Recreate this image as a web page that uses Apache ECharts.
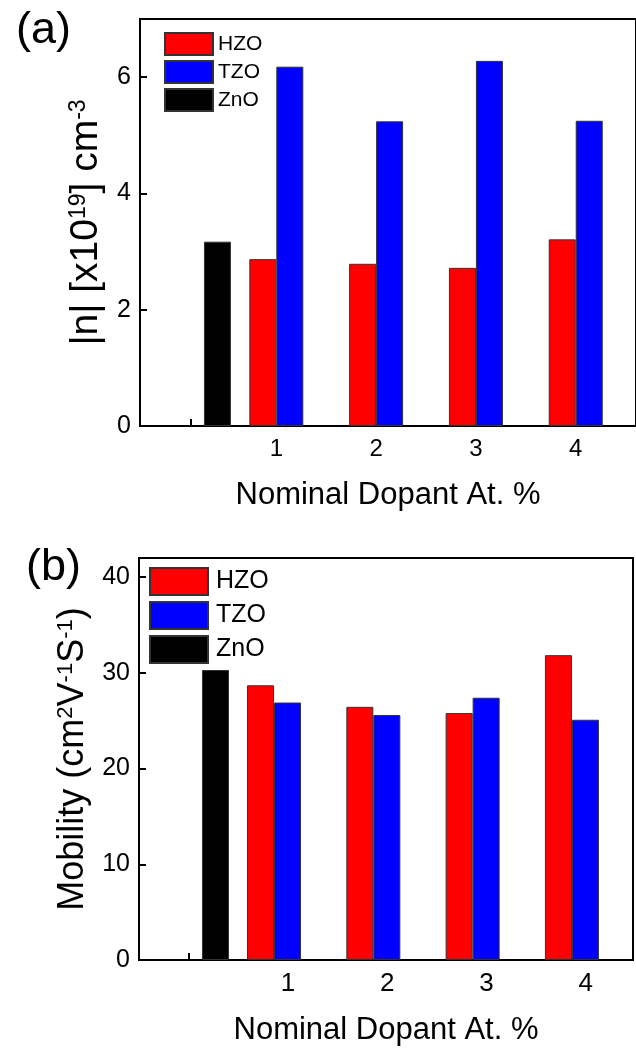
<!DOCTYPE html>
<html>
<head>
<meta charset="utf-8">
<script src="https://cdn.jsdelivr.net/npm/echarts@6/dist/echarts.min.js"></script>
<style>
html,body{margin:0;padding:0;background:#fff;}
#chart{width:636px;height:1048px;}
</style>
</head>
<body>
<div id="chart"></div>
<script>
// ---- data ----
const seriesNames = ['HZO', 'TZO', 'ZnO'];
const dopant = [1, 2, 3, 4];              // nominal dopant at.% (pair positions)
const znoPos = 0.41;                      // position of undoped ZnO bar
const tickPos = [0.14, 1.14, 2.14, 3.14, 4.14];
const hzoCarrier = [2.87, 2.79, 2.72, 3.21];   // |n| x1e19 cm^-3
const tzoCarrier = [6.18, 5.24, 6.28, 5.25];
const znoCarrier = 3.17;
const hzoMobility = [28.7, 26.45, 25.8, 31.85]; // cm2/Vs
const tzoMobility = [26.9, 25.6, 27.4, 25.1];
const znoMobility = 30.3;
const yTicksA = [0, 2, 4, 6];
const yTicksB = [0, 10, 20, 30, 40];

const FONT = 'Liberation Sans, Arial, sans-serif';
const colors = {HZO: '#ff0000', TZO: '#0000ff', ZnO: '#000000'};
const border = {borderColor: '#333', borderWidth: 1};

const chart = echarts.init(document.getElementById('chart'), null, {renderer: 'canvas'});

function xAxes(gridIndex, min, max, labelVals, labelSize, nameGap) {
  return [{
    type: 'value', gridIndex, min, max,
    axisLine: {show: true, onZero: false, lineStyle: {color: '#000', width: 2}},
    axisTick: {show: true, inside: true, length: 7, lineStyle: {color: '#000', width: 2}, customValues: tickPos},
    axisLabel: {show: true, customValues: labelVals, margin: 11, color: '#000', fontFamily: FONT, fontSize: labelSize,
      formatter: v => String(Math.round(v))},
    splitLine: {show: false},
    name: 'Nominal Dopant At. %', nameLocation: 'middle', nameGap,
    nameTextStyle: {fontFamily: FONT, fontSize: 31, color: '#000'}
  }, {
    type: 'value', gridIndex, min, max, show: false, splitLine: {show: false}
  }];
}

function yAxis(gridIndex, max, ticks, name, nameGap, nameSize) {
  return {
    type: 'value', gridIndex, min: 0, max,
    axisLine: {show: true, onZero: false, lineStyle: {color: '#000', width: 2}},
    axisTick: {show: true, inside: true, length: 7, lineStyle: {color: '#000', width: 2}, customValues: ticks},
    axisLabel: {customValues: ticks, margin: 9, color: '#000', fontFamily: FONT, fontSize: 25},
    splitLine: {show: false},
    name, nameLocation: 'middle', nameGap,
    nameTextStyle: {fontFamily: FONT, fontSize: nameSize, color: '#000',
      rich: {sup: {fontFamily: FONT, fontSize: Math.round(nameSize * 0.6), color: '#000', verticalAlign: 'top'}}}
  };
}

function barSeries(name, xIdx, yIdx, data) {
  return {
    type: 'bar', name, xAxisIndex: xIdx, yAxisIndex: yIdx, data,
    barWidth: 27, barGap: '0%',
    itemStyle: Object.assign({color: colors[name]}, border),
    emphasis: {disabled: true}
  };
}

const option = {
  animation: false,
  backgroundColor: '#fff',
  textStyle: {fontFamily: FONT},
  title: [
    {text: '(a)', left: 11, top: 3, textStyle: {fontFamily: FONT, fontSize: 45, fontWeight: 'normal', color: '#000'}},
    {text: '(b)', left: 21, top: 540, textStyle: {fontFamily: FONT, fontSize: 45, fontWeight: 'normal', color: '#000'}}
  ],
  legend: [
    {data: seriesNames, orient: 'vertical', left: 164, top: 32, itemWidth: 48, itemHeight: 22, itemGap: 4,
      padding: 0, selectedMode: false, icon: 'rect',
      textStyle: {fontFamily: FONT, fontSize: 21, color: '#000', lineHeight: 22}},
    {data: seriesNames, orient: 'vertical', left: 149, top: 567, itemWidth: 58, itemHeight: 27, itemGap: 5,
      padding: 0, selectedMode: false, icon: 'rect',
      textStyle: {fontFamily: FONT, fontSize: 25, color: '#000', lineHeight: 27, padding: [0, 0, 0, 3]}}
  ],
  grid: [
    {left: 140, top: 19, right: -6, bottom: 622, show: true, borderColor: '#000', borderWidth: 2, backgroundColor: 'transparent'},
    {left: 139, top: 558, right: 3, bottom: 88, show: true, borderColor: '#000', borderWidth: 2, backgroundColor: 'transparent'}
  ],
  xAxis: [
    ...xAxes(0, -0.366, 4.604, dopant, 24, 54),
    ...xAxes(1, -0.36, 4.615, tickPos.slice(1), 26, 55)
  ],
  yAxis: [
    yAxis(0, 7, yTicksA, '|n| [x10{sup|19}] cm{sup|-3}', 6, 39),
    yAxis(1, 42, yTicksB, 'Mobility (cm{sup|2}V{sup|-1}S{sup|-1})', 35, 36)
  ],
  series: [
    barSeries('HZO', 0, 0, dopant.map((d, i) => [d, hzoCarrier[i]])),
    barSeries('TZO', 0, 0, dopant.map((d, i) => [d, tzoCarrier[i]])),
    barSeries('ZnO', 1, 0, [[znoPos, znoCarrier]]),
    barSeries('HZO', 2, 1, dopant.map((d, i) => [d, hzoMobility[i]])),
    barSeries('TZO', 2, 1, dopant.map((d, i) => [d, tzoMobility[i]])),
    barSeries('ZnO', 3, 1, [[znoPos, znoMobility]])
  ]
};
chart.setOption(option);
</script>
</body>
</html>
